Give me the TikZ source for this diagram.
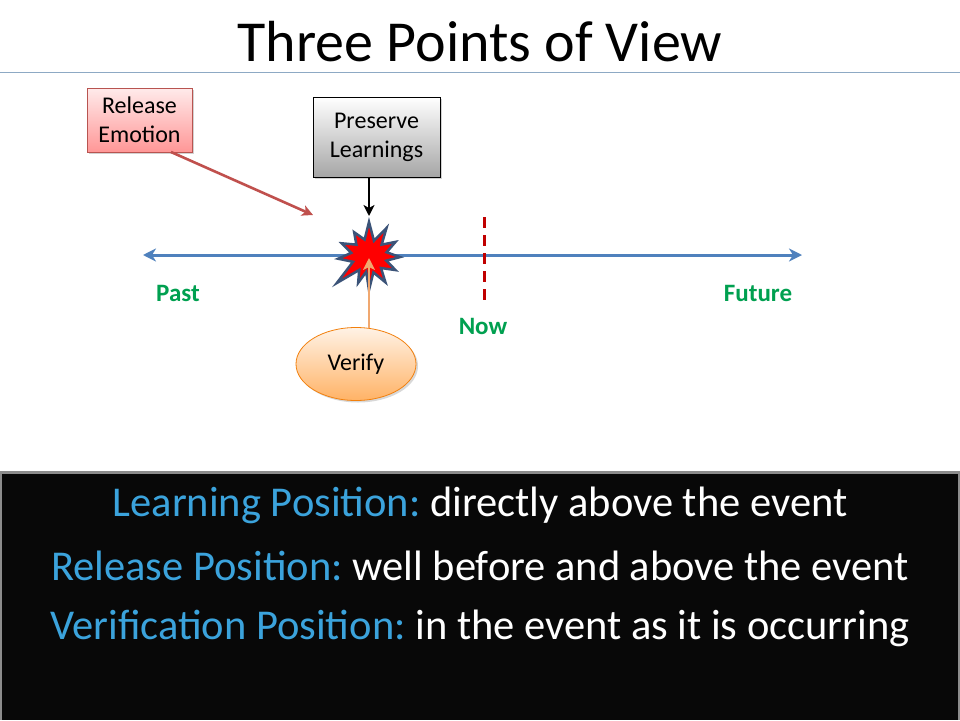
\documentclass[tikz,border=0pt]{standalone}
\usepackage{fontspec}
\setmainfont{Carlito}
\frenchspacing
\usetikzlibrary{arrows.meta,shapes.geometric,shadows}
\definecolor{axisblue}{HTML}{4F81BD}
\definecolor{labgreen}{HTML}{00A050}
\definecolor{nowred}{HTML}{C00000}
\definecolor{relred}{HTML}{C0504D}
\definecolor{relborder}{HTML}{B85450}
\definecolor{lightblue}{HTML}{3BA3DC}
\definecolor{verifyline}{HTML}{F0A870}
\definecolor{burstedge}{HTML}{3B5378}
\definecolor{ruleblue}{HTML}{8DA9C4}
\begin{document}
\begin{tikzpicture}[x=1pt,y=-1pt,
  boxlabel/.style={rectangle,draw,line width=0.8pt,align=center,font=\fontsize{24}{29}\selectfont,inner sep=0pt,drop shadow={shadow xshift=2pt,shadow yshift=-2pt,opacity=0.35}},
  timelabel/.style={font=\fontsize{25}{28}\selectfont\bfseries,text=labgreen},
  bottomline/.style={font=\fontsize{42.5}{46}\selectfont,text=white}
]
\useasboundingbox (0,0) rectangle (960,720);
\fill[white] (0,0) rectangle (960,720);
% title
\node[font=\fontsize{58}{64}\selectfont] (title) at (480,42) {Three Points of View};
\draw[ruleblue,line width=0.8pt] (0,72) -- (960,72);
% timeline
\coordinate (tl) at (143,255);
\coordinate (tr) at (802,255);
\draw[axisblue,line width=3pt,{Stealth[length=13pt,width=13pt,inset=4pt]}-{Stealth[length=13pt,width=13pt,inset=4pt]}] (tl) -- (tr);
% now line
\coordinate (nowtop) at (484,217);
\coordinate (nowbot) at (484,302);
\draw[nowred,line width=3pt,dash pattern=on 11pt off 7pt] (nowtop) -- (nowbot);
% labels
\node[timelabel] (past) at (178,293) {Past};
\node[timelabel] (future) at (758,293) {Future};
\node[timelabel] (now) at (483,326) {Now};
% starburst
\coordinate (ev) at (369,256);
\draw[fill=red,draw=burstedge,line width=2.5pt,line join=miter]
  ([shift={(90:34)}]ev) -- ([shift={(75:17)}]ev) -- ([shift={(58:31)}]ev) -- ([shift={(45:17)}]ev) -- ([shift={(28:30)}]ev) -- ([shift={(15:18)}]ev) -- ([shift={(2:31)}]ev) -- ([shift={(-12:18)}]ev) -- ([shift={(-28:30)}]ev) -- ([shift={(-42:17)}]ev) -- ([shift={(-58:33)}]ev) -- ([shift={(-72:16)}]ev) -- ([shift={(-90:34)}]ev) -- ([shift={(-105:17)}]ev) -- ([shift={(-122:28)}]ev) -- ([shift={(-138:17)}]ev) -- ([shift={(-155:30)}]ev) -- ([shift={(-170:18)}]ev) -- ([shift={(175:31)}]ev) -- ([shift={(160:17)}]ev) -- ([shift={(140:42)}]ev) -- ([shift={(125:17)}]ev) -- ([shift={(112:29)}]ev) -- ([shift={(100:16)}]ev) -- cycle;
\node[inner sep=0pt,minimum size=1pt] (event) at (ev) {};
% boxes
\node[boxlabel,draw=relborder,top color=red!8,bottom color=red!35!pink!80!white,minimum width=105pt,minimum height=64pt] (release) at (139.5,120) {Release\\Emotion};
\node[boxlabel,draw=black,top color=white,bottom color=black!35,minimum width=127pt,minimum height=80pt] (preserve) at (376.5,137) {Preserve\\Learnings};
\node[ellipse,draw=orange!80!brown,line width=0.8pt,top color=orange!10,bottom color=orange!60,minimum width=120pt,minimum height=73pt,font=\fontsize{24}{28}\selectfont,drop shadow={shadow xshift=2pt,shadow yshift=-2pt,opacity=0.3}] (verify) at (356,364) {Verify};
% connectors
\coordinate (relstart) at (171,152);
\coordinate (relend) at (313,215);
\draw[relred,line width=2.6pt,-{Stealth[length=11pt,width=11pt,inset=3pt]}] (relstart) -- (relend);
\coordinate (presend) at (369,216);
\draw[black,line width=2.6pt,-{Stealth[length=11pt,width=11pt,inset=3pt]}] (preserve.south -| presend) -- (presend);
\coordinate (verend) at (369,258);
\draw[verifyline,line width=2.8pt,-{Stealth[length=12pt,width=12pt,inset=3pt]}] (verify.north -| verend) ++(0,1) -- (verend);
% bottom panel
\fill[black!45] (0,471) rectangle (960,720);
\fill[black!97] (2,474) rectangle (958,720);
\node[bottomline] (l1) at (480,505) {\textcolor{lightblue}{Learning Position:} directly above the event};
\node[bottomline] (l2) at (480,566) {\textcolor{lightblue}{Release Position:} well before and above the event};
\node[bottomline] (l3) at (480,628) {\textcolor{lightblue}{Verification Position:} in the event as it is occurring};
\end{tikzpicture}
\end{document}
